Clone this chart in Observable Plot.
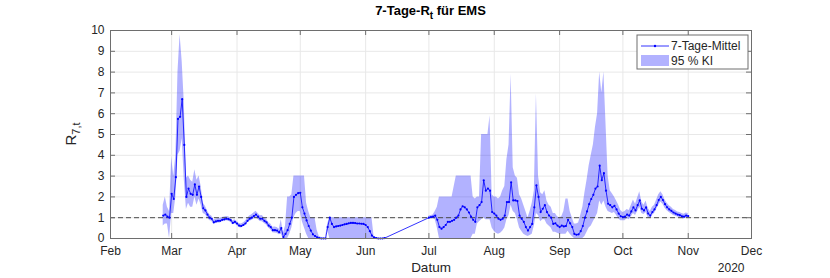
<!DOCTYPE html>
<html><head><meta charset="utf-8">
<script src="https://cdn.jsdelivr.net/npm/d3@7"></script>
<script src="https://cdn.jsdelivr.net/npm/@observablehq/plot@0.6"></script>
<style>
body{margin:0;background:#fff;}
#chart svg{font-family:"Liberation Sans",Arial,Helvetica,sans-serif;}
</style>
</head><body><div id="chart"></div>
<script>
// ---- data ----
const seg1Start = "2020-02-26";   // daily values Feb 26 .. Jun 10
const rt1 = [
 1.1,1.15,1.05,1.0,
 2.15,1.9,2.95,5.75,5.85,6.7,4.5,2.0,2.4,2.15,2.1,2.6,2.1,2.5,2.0,1.45,1.35,1.15,1.0,0.95,0.78,0.82,0.85,0.85,0.9,0.92,0.95,0.93,0.88,0.75,0.8,
 0.72,0.62,0.6,0.65,0.72,0.85,0.95,1.0,1.08,1.15,1.05,0.95,0.95,0.85,0.78,0.62,0.55,0.4,0.4,0.38,0.3,0.5,0.07,0.22,0.4,0.7,1.0,2.0,2.1,2.18,
 2.2,1.5,1.2,0.87,0.6,0.38,0.2,0.12,0.06,0.02,0,0,0,0.55,1.0,0.7,0.55,0.58,0.6,0.62,0.65,0.68,0.7,0.73,0.75,0.75,0.74,0.72,0.72,0.71,0.7,
 0.65,0.55,0.35,0.14,0.05,0.02,0,0,0,0.02
];
const lo1 = [
 0.6,0.7,0.7,0,
 1.2,1.2,2.0,4.0,4.2,4.8,2.8,1.4,1.7,1.5,1.5,2.0,1.6,1.9,1.6,1.2,1.15,1.0,0.87,0.83,0.68,0.72,0.75,0.75,0.8,0.82,0.85,0.83,0.78,0.66,0.7,
 0.63,0.53,0.51,0.56,0.62,0.74,0.83,0.87,0.94,1.0,0.91,0.82,0.81,0.72,0.65,0.5,0.42,0.28,0.27,0.25,0.18,0.2,0,0,0,0.2,0.5,1.0,1.2,1.3,
 1.3,0.8,0.5,0.2,0,0,0,0,0,0,0,0,0,0.4,0,0,0,0,0,0,0,0,0,0,0,0,0,0,0,0,0,
 0,0,0,0,0,0,0,0,0,0
];
const hi1 = [
 1.6,2.0,1.5,1.3,
 3.9,3.0,4.0,8.0,9.8,8.5,6.5,2.9,3.0,2.8,2.7,3.3,2.8,3.0,2.5,1.7,1.55,1.32,1.14,1.08,0.89,0.93,0.96,0.96,1.01,1.03,1.06,1.04,0.99,0.85,0.9,
 0.82,0.72,0.7,0.75,0.83,0.97,1.08,1.14,1.23,1.31,1.2,1.09,1.1,0.99,0.92,0.76,0.7,0.54,0.55,0.53,0.45,0.9,0.25,0.6,2.0,2.0,2.1,3.0,3.0,3.0,
 3.0,3.0,3.0,1.7,1.3,1.0,1.0,1.0,0.4,0.1,0.05,0.05,0.05,0.7,1.0,1.0,1.0,1.0,1.0,1.0,1.0,1.0,1.0,1.0,1.0,1.0,1.0,1.0,1.0,1.0,1.0,
 1.0,1.0,1.0,1.0,0.1,0.05,0.03,0.03,0.03,0.05
];
const seg2Start = "2020-07-01";   // daily values Jul 1 .. Nov 1
const rt2 = [
 1.0,1.03,1.05,1.1,0.9,0.55,0.47,0.55,0.65,0.8,0.8,0.85,0.9,1.0,1.1,1.4,1.55,1.5,1.4,1.25,1.05,0.9,0.8,1.5,1.6,1.75,2.8,2.3,2.4,2.3,1.27,
 1.2,1.1,0.95,0.9,0.95,1.1,1.75,1.75,2.7,1.83,1.83,1.8,1.1,0.95,0.8,0.55,0.38,0.55,0.7,1.5,2.55,2.0,1.27,1.43,1.6,1.27,1.1,1.0,0.7,0.73,0.62,
 0.55,0.62,0.58,0.6,0.9,0.73,0.55,0.22,0.18,0.2,0.35,0.6,1.0,1.3,1.65,1.9,2.1,2.4,2.5,3.5,2.8,3.14,2.3,1.67,1.6,1.5,1.57,1.4,1.2,1.07,
 1.03,1.05,1.15,1.1,1.3,1.5,1.35,1.6,1.83,1.43,1.35,1.5,1.2,1.1,1.27,1.4,1.6,1.85,2.0,1.85,1.65,1.5,1.4,1.33,1.25,1.2,1.15,1.12,1.07,1.05,1.1,
 1.08
];
const lo2 = [
 0.93,0.96,0.97,0.9,0.5,0,0,0,0,0,0,0,0,0,0,0,0,0,0,0,0,0.2,0.2,0.7,0.8,0.9,1.0,0.9,0.9,0.9,0.5,
 0.35,0.25,0.2,0.25,0.35,0.5,0.9,1.1,1.6,1.3,1.2,0.9,0.5,0.35,0.2,0.15,0.1,0.15,0.2,0.6,1.2,1.1,0.8,0.9,0.9,0.7,0.6,0.5,0.3,0.3,0.25,
 0.2,0.2,0.2,0.2,0.35,0.2,0.1,0,0,0,0,0,0.1,0.3,0.5,0.6,0.8,1.0,1.2,1.8,1.6,1.8,1.5,1.3,1.25,1.2,1.25,1.1,0.95,0.85,
 0.85,0.85,0.95,0.9,1.05,1.2,1.1,1.3,1.5,1.2,1.15,1.25,1.0,0.95,1.1,1.2,1.4,1.6,1.75,1.65,1.45,1.33,1.25,1.18,1.1,1.07,1.03,1.0,0.96,0.94,0.99,
 0.97
];
const hi2 = [
 1.07,1.1,1.13,1.3,1.5,2.0,2.0,2.0,2.0,2.0,2.0,2.0,2.5,3.0,3.0,3.0,3.0,3.0,3.0,3.0,3.0,2.0,1.9,2.0,2.0,5.0,5.0,5.0,5.0,5.9,2.1,
 2.0,2.0,1.9,2.0,2.3,2.5,3.8,4.5,7.9,3.4,3.0,2.9,2.1,1.9,1.6,1.3,1.0,1.3,1.7,2.3,6.96,3.0,2.2,2.1,2.3,1.8,1.6,1.5,1.2,1.2,1.05,
 1.0,1.05,1.3,1.9,1.9,1.3,1.0,0.7,0.7,0.75,1.1,1.5,2.2,2.8,3.5,4.0,4.5,5.35,6.0,8.0,7.0,8.0,5.5,3.0,2.3,2.15,2.0,1.8,1.6,1.35,
 1.25,1.3,1.4,1.35,1.6,1.85,1.65,1.95,2.25,1.75,1.6,1.8,1.45,1.3,1.5,1.6,1.85,2.1,2.25,2.1,1.85,1.7,1.57,1.5,1.4,1.35,1.28,1.25,1.2,1.17,1.22,
 1.2
];
const monthStart = "2020-02-01", monthEnd = "2020-12-01";
const yTicks = [0,1,2,3,4,5,6,7,8,9,10];
const refLevel = [1];
const titleMain = "7-Tage-R", titleSub = "t", titleRest = " für EMS";
const xLabel = "Datum", yearLabel = "2020";
const yLabelMain = "R", yLabelSub = "7,t";
const legendLabels = ["7-Tage-Mittel", "95 % KI"];

// ---- build ----
const W = 830, H = 278, mL = 110, mR = 79, mT = 30, mB = 40;
const plotW = W - mL - mR, plotH = H - mT - mB;
const BLUE = "#0000ff", TXT = "#262626", AX = "#6e6e6e";

function rows(start, rt, lo, hi) {
  const s = new Date(start + "T00:00:00Z");
  return rt.map((v, i) => ({date: d3.utcDay.offset(s, i), rt: v, lo: lo[i], hi: hi[i]}));
}
const r1 = rows(seg1Start, rt1, lo1, hi1);
const r2 = rows(seg2Start, rt2, lo2, hi2);
const all = r1.concat(r2);
const months = d3.utcMonth.range(new Date(monthStart + "T00:00:00Z"), d3.utcDay.offset(new Date(monthEnd + "T00:00:00Z"), 1));

const chart = Plot.plot({
  width: W, height: H,
  marginLeft: mL, marginRight: mR, marginTop: mT, marginBottom: mB,
  x: {type: "utc", domain: [months[0], months[months.length - 1]]},
  y: {domain: [0, 10]},
  style: {fontFamily: "'Liberation Sans', Arial, sans-serif", fontSize: "12px", color: TXT, background: "white", overflow: "visible"},
  marks: [
    Plot.gridX(months, {stroke: "#e8e8e8", strokeOpacity: 1}),
    Plot.gridY(yTicks, {stroke: "#e8e8e8", strokeOpacity: 1}),
    Plot.areaY(r1, {x: "date", y1: "lo", y2: "hi", fill: BLUE, fillOpacity: 0.3}),
    Plot.areaY(r2, {x: "date", y1: "lo", y2: "hi", fill: BLUE, fillOpacity: 0.3}),
    Plot.ruleY(refLevel, {stroke: "#4a4a4a", strokeDasharray: "5,3", strokeWidth: 1}),
    Plot.line(all, {x: "date", y: "rt", stroke: BLUE, strokeWidth: 0.8}),
    Plot.dot(all, {x: "date", y: "rt", r: 1.1, fill: BLUE, stroke: null}),
    Plot.frame({stroke: AX}),
    Plot.tickX(months, {x: d => d, insetTop: plotH - 5, stroke: AX}),
    Plot.tickX(months, {x: d => d, insetBottom: plotH - 5, stroke: AX}),
    Plot.tickY(yTicks, {y: d => d, insetRight: plotW - 5, stroke: AX}),
    Plot.tickY(yTicks, {y: d => d, insetLeft: plotW - 5, stroke: AX}),
    Plot.axisX(months, {tickFormat: d3.utcFormat("%b"), tickSize: 0, tickPadding: 8, label: null, fill: TXT}),
    Plot.axisY(yTicks, {tickSize: 0, tickPadding: 6, label: null, fill: TXT}),
    Plot.text([xLabel], {text: d => d, frameAnchor: "bottom", dy: 33, fontSize: 13.5, fill: TXT}),
    Plot.text([yearLabel], {text: d => d, frameAnchor: "bottom-right", dy: 33, dx: -7, textAnchor: "end", fontSize: 12, fill: TXT})
  ]
});
document.getElementById("chart").appendChild(chart);

// ---- title, y label, legend (non-data decorations) ----
const svg = d3.select(chart);
const cx = mL + plotW / 2;
const t = svg.append("text").attr("x", cx).attr("y", 15).attr("text-anchor", "middle")
  .attr("font-size", 13).attr("font-weight", "bold").attr("fill", "#000");
t.append("tspan").text(titleMain);
t.append("tspan").attr("font-size", 10).attr("dy", 4).text(titleSub);
t.append("tspan").attr("dy", -4).text(titleRest);

const yl = svg.append("text").attr("transform", `translate(76,${mT + plotH / 2}) rotate(-90)`)
  .attr("text-anchor", "middle").attr("font-size", 15).attr("fill", TXT);
yl.append("tspan").text(yLabelMain);
yl.append("tspan").attr("font-size", 11).attr("dy", 4).text(yLabelSub);

const lg = svg.append("g").attr("text-anchor", "start");
const lx = 637, ly = 35, lw = 111, lh = 34;
lg.append("rect").attr("x", lx).attr("y", ly).attr("width", lw).attr("height", lh)
  .attr("fill", "white").attr("stroke", AX).attr("stroke-width", 1);
lg.append("line").attr("x1", lx + 4).attr("x2", lx + 32).attr("y1", ly + 11).attr("y2", ly + 11)
  .attr("stroke", BLUE).attr("stroke-width", 0.8);
lg.append("circle").attr("cx", lx + 18).attr("cy", ly + 11).attr("r", 1.2).attr("fill", BLUE);
lg.append("rect").attr("x", lx + 4).attr("y", ly + 20).attr("width", 28).attr("height", 11)
  .attr("fill", BLUE).attr("fill-opacity", 0.3);
lg.append("text").attr("x", lx + 34).attr("y", ly + 15).attr("text-anchor", "start").attr("font-size", 12).attr("fill", TXT).text(legendLabels[0]);
lg.append("text").attr("x", lx + 34).attr("y", ly + 30).attr("text-anchor", "start").attr("font-size", 12).attr("fill", TXT).text(legendLabels[1]);
</script>
</body></html>
